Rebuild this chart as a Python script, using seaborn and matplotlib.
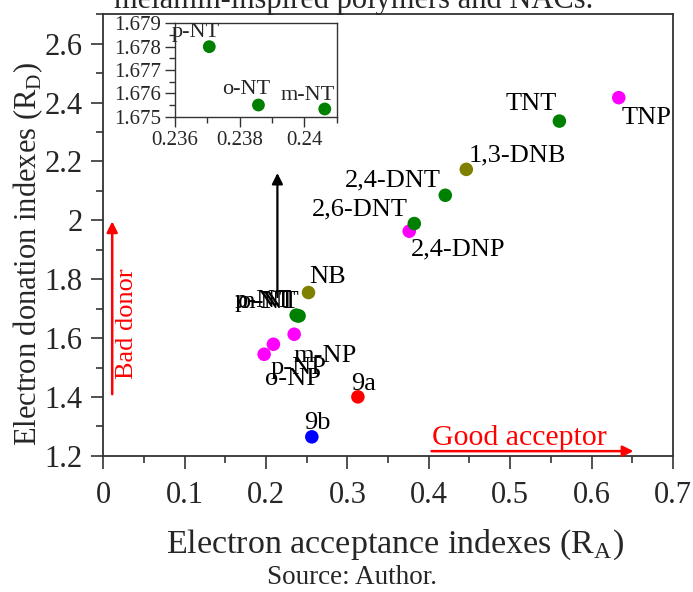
import matplotlib
matplotlib.use("Agg")
import matplotlib.pyplot as plt
from matplotlib.ticker import MultipleLocator, FuncFormatter
import seaborn as sns
import pandas as pd

# Electron acceptance (RA) and donation (RD) indexes of the analytes
compounds = ["TNP", "TNT", "1,3-DNB", "2,4-DNT", "2,4-DNP", "2,6-DNT", "NB",
             "p-NT", "o-NT", "m-NT", "m-NP", "p-NP", "o-NP", "9a", "9b"]
ra = [0.6335, 0.5605, 0.4461, 0.4203, 0.3760, 0.3822, 0.2522,
      0.23706, 0.23858, 0.24063, 0.2346, 0.2091, 0.1977, 0.3129, 0.2563]
rd = [2.4166, 2.3370, 2.1730, 2.0850, 1.9630, 1.9890, 1.7547,
      1.6780, 1.6755, 1.67533, 1.6130, 1.5790, 1.5450, 1.4003, 1.2645]
family = ["phenol", "toluene", "benzene", "toluene", "phenol", "toluene", "benzene",
          "toluene", "toluene", "toluene", "phenol", "phenol", "phenol", "9a", "9b"]

palette = {"phenol": "#ff00ff", "toluene": "#008000", "benzene": "#808000",
           "9a": "#ff0000", "9b": "#0000ff"}

# label offsets (points) for each marker label
label_offsets = {
    "TNP": (20, -15), "TNT": (-20, 12), "1,3-DNB": (37, 10), "2,4-DNT": (-38, 11),
    "2,4-DNP": (35, -13), "2,6-DNT": (-39, 10), "NB": (14, 11),
    "p-NT": (-24, 10), "o-NT": (-22, 10), "m-NT": (-23, 10),
    "m-NP": (22, -16), "p-NP": (18, -17), "o-NP": (21, -18),
    "9a": (4, 9), "9b": (4, 10),
}
inset_offsets = {"p-NT": (-10, 10), "o-NT": (-9, 11), "m-NT": (-12, 10)}

df = pd.DataFrame({"compound": compounds, "RA": ra, "RD": rd, "family": family})
nt = df[df["compound"].isin(["p-NT", "o-NT", "m-NT"])]

sns.set_style("ticks")
plt.rcParams["font.family"] = ["Liberation Serif", "DejaVu Serif"]
plt.rcParams["mathtext.fontset"] = "custom"
plt.rcParams["mathtext.rm"] = "Liberation Serif"
plt.rcParams["axes.edgecolor"] = "#333333"
plt.rcParams["axes.linewidth"] = 1.3

fig = plt.figure(figsize=(6.93, 5.92), dpi=100)
ax = fig.add_axes([0.149, 0.230, 0.822, 0.746])

sns.scatterplot(data=df, x="RA", y="RD", hue="family", palette=palette,
                s=95, linewidth=0, legend=False, ax=ax, zorder=3)

for name, x, y in zip(compounds, ra, rd):
    dx, dy = label_offsets[name]
    ax.annotate(name, (x, y), xytext=(dx, dy), textcoords="offset points",
                ha="center", va="center", fontsize=19, color="black", zorder=4)

ax.set_xlim(0, 0.7)
ax.set_ylim(1.2, 2.7)
ax.xaxis.set_major_locator(MultipleLocator(0.1))
ax.xaxis.set_minor_locator(MultipleLocator(0.05))
ax.yaxis.set_major_locator(MultipleLocator(0.2))
ax.yaxis.set_minor_locator(MultipleLocator(0.1))
fmt = FuncFormatter(lambda v, p: "%g" % round(v, 6))
ax.xaxis.set_major_formatter(fmt)
ax.yaxis.set_major_formatter(fmt)
ax.tick_params(which="major", direction="out", length=9, width=1.2, labelsize=22,
               color="#333333", pad=6)
ax.tick_params(axis="x", which="major", pad=9)
ax.tick_params(which="minor", direction="out", length=5, width=1.2, color="#333333")
for s in ax.spines.values():
    s.set_visible(True)

ax.set_xlabel(r"Electron acceptance indexes (R$_{\mathrm{A}}$)", fontsize=24.5)
ax.set_ylabel(r"Electron donation indexes (R$_{\mathrm{D}}$)", fontsize=22)
ax.xaxis.set_label_coords(0.512, -0.163)
ax.yaxis.set_label_coords(-0.102, 0.457)

# trend arrows
ax.annotate("", xy=(0.214, 2.17), xytext=(0.214, 1.73),
            arrowprops=dict(arrowstyle="-|>", color="black", lw=1.6, mutation_scale=16))
ax.annotate("", xy=(0.011, 2.006), xytext=(0.011, 1.400),
            arrowprops=dict(arrowstyle="-|>", color="red", lw=1.8, mutation_scale=16))
ax.annotate("", xy=(0.655, 1.216), xytext=(0.400, 1.216),
            arrowprops=dict(arrowstyle="-|>", color="red", lw=1.8, mutation_scale=16))
ax.text(0.029, 1.649, "Bad donor", rotation=90, color="red", fontsize=19,
        ha="center", va="center")
ax.text(0.511, 1.262, "Good acceptor", color="red", fontsize=21.5,
        ha="center", va="center")

# inset: zoom on the nitrotoluene cluster
axin = fig.add_axes([0.2525, 0.8029, 0.2334, 0.1577])
sns.scatterplot(data=nt, x="RA", y="RD", hue="family", palette=palette,
                s=85, linewidth=0, legend=False, ax=axin, zorder=3)
for name, x, y in zip(nt["compound"], nt["RA"], nt["RD"]):
    dx, dy = inset_offsets[name]
    axin.annotate(name, (x, y), xytext=(dx, dy), textcoords="offset points",
                  ha="center", va="center", fontsize=16)
axin.set_xlim(0.236, 0.241)
axin.set_ylim(1.675, 1.679)
axin.xaxis.set_major_locator(MultipleLocator(0.002))
axin.xaxis.set_minor_locator(MultipleLocator(0.001))
axin.yaxis.set_major_locator(MultipleLocator(0.001))
axin.yaxis.set_minor_locator(MultipleLocator(0.0005))
axin.xaxis.set_major_formatter(fmt)
axin.yaxis.set_major_formatter(fmt)
axin.tick_params(which="major", direction="out", length=7, width=1.0, labelsize=15,
                 color="#333333", pad=3)
axin.tick_params(which="minor", direction="out", length=4, width=1.0, color="#333333")
axin.set_xlabel("")
axin.set_ylabel("")
for s in axin.spines.values():
    s.set_visible(True)
    s.set_linewidth(1.0)

fig.text(0.511, 1 - 8 / 592, "melamin-inspired polymers and NACs.", fontsize=22,
         ha="center", va="baseline")
fig.text(0.508, 1 - 577 / 592, "Source: Author.", fontsize=19.5, ha="center", va="center")

fig.savefig("out.png", dpi=100)
